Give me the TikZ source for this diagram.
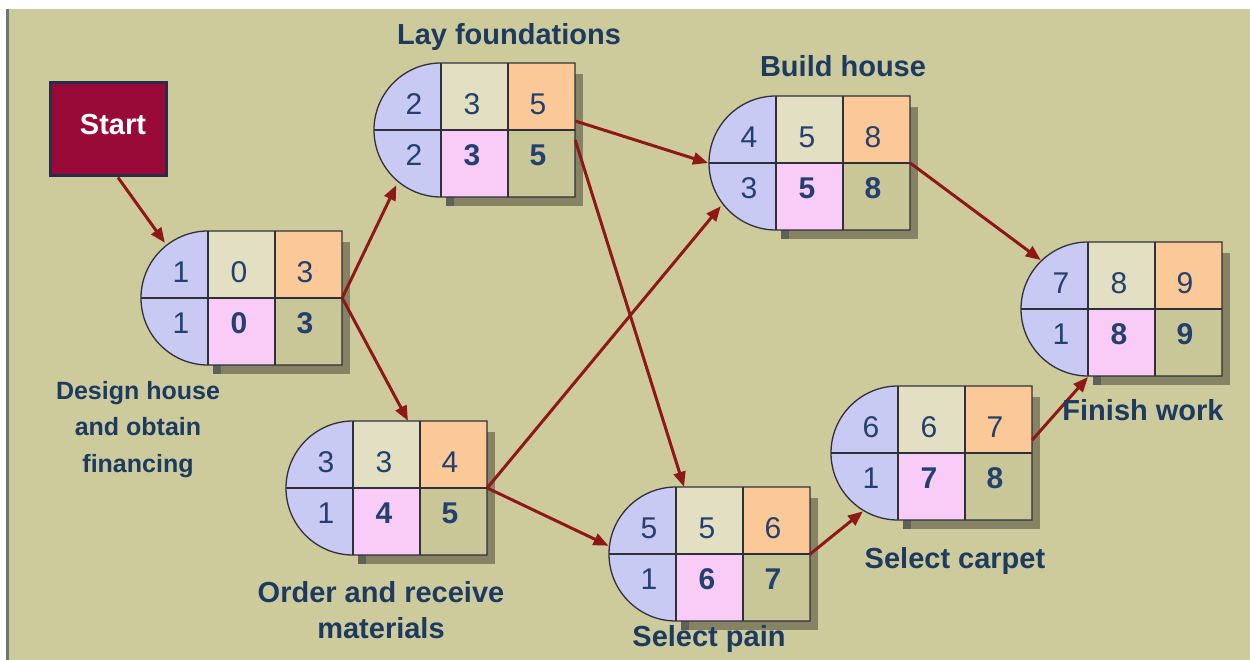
\documentclass[tikz,border=0pt]{standalone}
\usepackage{fontspec}
\setmainfont{Liberation Sans}
\usetikzlibrary{arrows.meta,calc}

\definecolor{bgolive}{HTML}{CDCB9B}
\definecolor{edgegray}{HTML}{6B7A70}
\definecolor{lav}{HTML}{C9CAF3}
\definecolor{beige}{HTML}{E2DFC2}
\definecolor{peach}{HTML}{FBC998}
\definecolor{pinkc}{HTML}{F8CCF6}
\definecolor{olivec}{HTML}{C9C697}
\definecolor{gridline}{HTML}{30303A}
\definecolor{shadowol}{HTML}{858363}
\definecolor{shadowdk}{HTML}{5E6258}
\definecolor{arrowred}{HTML}{8E1818}
\definecolor{navy}{HTML}{1D3A60}
\definecolor{numblue}{HTML}{23406E}
\definecolor{startred}{HTML}{9A0A38}
\definecolor{startedge}{HTML}{2A2D48}

\newcommand\lblfont{\bfseries\fontsize{29}{36}\selectfont}
\newcommand\smlblfont{\bfseries\fontsize{25}{36.5}\selectfont}
\newcommand\numfont{\fontsize{30}{32}\selectfont}

\tikzset{
  cellline/.style={draw=gridline, line width=1.3pt},
  flow/.style={draw=arrowred, line width=3pt, -{Triangle[length=15pt,width=12pt]}},
  lbl/.style={text=navy, font=\lblfont, inner sep=0pt},
  num/.style={text=numblue, font=\numfont, inner sep=0pt},
  bnum/.style={num, font=\numfont\bfseries},
  actarea/.style={minimum width=134pt, minimum height=134pt, inner sep=0pt, draw=none},
  startbox/.style={fill=startred, draw=startedge, line width=3pt,
    minimum width=116pt, minimum height=93pt, inner sep=0pt,
    text=white, font=\lblfont},
}

% activity box: name, x, y of the semicircle centre, then the six numbers
\newcommand\activity[9]{%
  \begin{scope}[shift={(#2,#3)}]
    \fill[shadowol] (8,-76) rectangle (142,56);
    \fill[shadowdk] (5,-67) rectangle (13,-76);
    \fill[lav] (0,67) arc[start angle=90,end angle=270,radius=67] -- cycle;
    \fill[beige] (0,0) rectangle (67,67);
    \fill[peach] (67,0) rectangle (134,67);
    \fill[pinkc] (0,0) rectangle (67,-67);
    \fill[olivec] (67,0) rectangle (134,-67);
    \draw[cellline] (0,67) -- (134,67) -- (134,-67) -- (0,-67)
      arc[start angle=270,end angle=90,radius=67] -- cycle;
    \draw[cellline] (-67,0) -- (134,0) (0,67) -- (0,-67) (67,67) -- (67,-67);
    \node[num]  at (-27,26) {#4};
    \node[num]  at (31,26)  {#5};
    \node[num]  at (97,26)  {#6};
    \node[num]  at (-27,-25) {#7};
    \node[bnum] at (31,-25) {#8};
    \node[bnum] at (97,-25) {#9};
    \coordinate (#1c) at (0,0);
    \node[actarea] (#1) at (67,0) {};
  \end{scope}}

\begin{document}
\begin{tikzpicture}[x=1pt,y=1pt]
  \useasboundingbox (0,0) rectangle (1250,-660);
  \fill[white] (0,0) rectangle (1250,-660);
  \fill[bgolive] (8,-9) rectangle (1250,-660);
  \fill[edgegray] (6,-9) rectangle (8.5,-660);

  % start event
  \node[startbox] (start) at (108,-129.5) {\hspace*{10pt}\raisebox{11pt}{Start}};

  % activities
  \activity{n1}{208}{-298}{1}{0}{3}{1}{0}{3}
  \activity{n2}{441}{-130}{2}{3}{5}{2}{3}{5}
  \activity{n3}{353}{-488}{3}{3}{4}{1}{4}{5}
  \activity{n4}{776}{-163}{4}{5}{8}{3}{5}{8}
  \activity{n5}{676}{-554}{5}{5}{6}{1}{6}{7}
  \activity{n6}{898}{-453}{6}{6}{7}{1}{7}{8}
  \activity{n7}{1088}{-309}{7}{8}{9}{1}{8}{9}

  % dependencies
  \draw[flow] ($(start.south)+(10,0)$) -- ($(n1c)+(128:70)$);
  \draw[flow] (n1.east) -- ($(n2c)+(231:71)$);
  \draw[flow] (n1.east) -- ($(n3.north)+(-12,0)$);
  \draw[flow] ($(n2.east)+(0,9)$) -- ($(n4c)+(180:68)$);
  \draw[flow] ($(n2.east)+(0,-10)$) -- ($(n5.north)+(-59,0)$);
  \draw[flow] (n3.east) -- ($(n4c)+(218:70)$);
  \draw[flow] (n3.east) -- ($(n5c)+(173:68)$);
  \draw[flow] (n4.east) -- ($(n7c)+(134:68)$);
  \draw[flow] (n5.east) -- ($(n6c)+(239:68)$);
  \draw[flow] ($(n6.east)+(0,13)$) -- ($(n7c)+(270:68)$);

  % activity names
  \node[lbl, anchor=base] (t2) at (509,-44.5) {Lay foundations};
  \node[lbl, anchor=base] (t4) at (843,-77) {Build house};
  \node[lbl, font=\smlblfont, align=center, anchor=north] (t1) at (138,-381)
    {Design house\\and obtain\\financing};
  \node[lbl, align=center, anchor=north] (t3) at (381,-581)
    {Order and receive\\materials};
  \node[lbl, anchor=base] (t5) at (709,-646.5) {Select pain};
  \node[lbl, anchor=base] (t6) at (955,-568) {Select carpet};
  \node[lbl, anchor=base] (t7) at (1143,-420) {Finish work};
\end{tikzpicture}
\end{document}
